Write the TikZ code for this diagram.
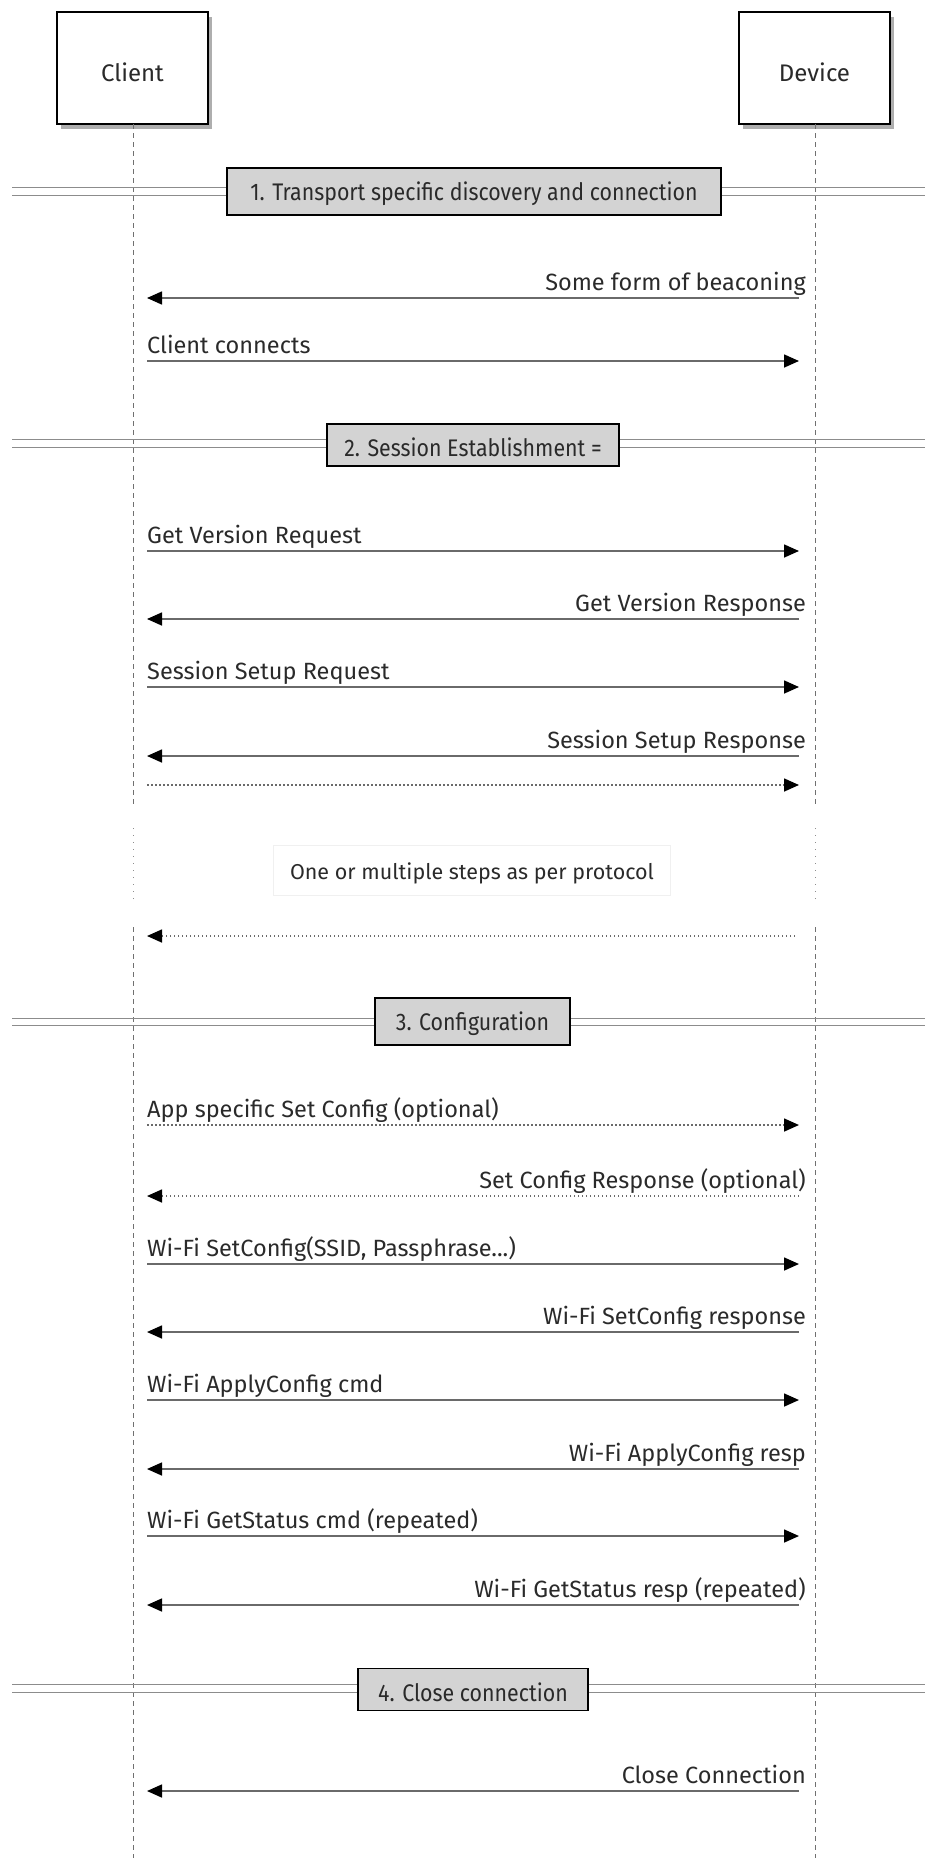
\documentclass[tikz,border=0pt]{standalone}
\usepackage{fontspec}
\setmainfont{Fira Sans}
\newfontfamily\sepfont[FakeStretch=0.89]{Fira Sans}
\usetikzlibrary{arrows.meta,shadows}
\definecolor{txt}{HTML}{2A2A2A}
\definecolor{msgline}{HTML}{6A6A6A}
\definecolor{lifeln}{HTML}{707070}
\definecolor{sepln}{HTML}{8C8C8C}
\definecolor{sepfill}{HTML}{D3D3D3}
\tikzset{
  participant/.style={draw=black, line width=1.5pt, fill=white, minimum width=151pt, minimum height=112pt,
    text=txt, font=\fontsize{24}{28}\selectfont,
    drop shadow={shadow xshift=4pt, shadow yshift=-5pt, fill=black!70, opacity=0.45}},
  lifeline/.style={draw=lifeln, line width=1pt, dash pattern=on 5pt off 4pt},
  lifedots/.style={draw=lifeln!80, line width=1pt, dash pattern=on 1pt off 6pt},
  msg/.style={draw=msgline, line width=1.6pt, -{Triangle[length=15pt,width=13pt,color=black]}},
  dmsg/.style={msg, dash pattern=on 1.5pt off 2.5pt},
  rlabel/.style={anchor=base west, inner sep=0pt, text=txt, font=\fontsize{23.5}{28}\selectfont},
  llabel/.style={anchor=base east, inner sep=0pt, text=txt, font=\fontsize{23.5}{28}\selectfont},
  sepline/.style={draw=sepln, line width=1.3pt},
  sepbox/.style={draw=black, line width=1.5pt, fill=sepfill, minimum height=45pt, inner sep=0pt,
    text=txt, font=\sepfont\fontsize{24}{28}\selectfont},
  notebox/.style={draw=black!6, line width=0.8pt, fill=white, minimum width=397pt, minimum height=50pt,
    text=txt, font=\fontsize{21.5}{26}\selectfont}
}
\newcommand{\lmsg}[3]{%
  \coordinate (a#1) at (799,#2); \coordinate (b#1) at (147,#2);
  \draw[msg] (a#1) -- (b#1);
  \node[llabel] (t#1) at (806,#2-8) {#3};}
\newcommand{\rmsg}[3]{%
  \coordinate (a#1) at (147,#2); \coordinate (b#1) at (799,#2);
  \draw[msg] (a#1) -- (b#1);
  \node[rlabel] (t#1) at (147,#2-8) {#3};}
\newcommand{\ldmsg}[3]{%
  \coordinate (a#1) at (799,#2); \coordinate (b#1) at (147,#2);
  \draw[dmsg] (a#1) -- (b#1);
  \node[llabel] (t#1) at (806,#2-8) {#3};}
\newcommand{\rdmsg}[3]{%
  \coordinate (a#1) at (147,#2); \coordinate (b#1) at (799,#2);
  \draw[dmsg] (a#1) -- (b#1);
  \node[rlabel] (t#1) at (147,#2-8) {#3};}
\newcommand{\lowtxt}[2]{\raisebox{-#1pt}[\height][\depth]{#2}}
\begin{document}
\begin{tikzpicture}[x=1pt,y=-1pt]
\useasboundingbox (0,0) rectangle (925,1858);
% participants
\node[participant] (client) at (132.5,68) {\lowtxt{4}{Client}};
\node[participant] (device) at (814.5,68) {\lowtxt{4}{Device}};
% lifeline coordinates
\coordinate (cl0) at (133,124);  \coordinate (cl1) at (133,805);
\coordinate (cl2) at (133,828);  \coordinate (cl3) at (133,905);
\coordinate (cl4) at (133,927);  \coordinate (cl5) at (133,1858);
\coordinate (dl0) at (815,124);  \coordinate (dl1) at (815,805);
\coordinate (dl2) at (815,828);  \coordinate (dl3) at (815,905);
\coordinate (dl4) at (815,927);  \coordinate (dl5) at (815,1858);
\draw[lifeline] (cl0) -- (cl1);
\draw[lifedots] (cl2) -- (cl3);
\draw[lifeline] (cl4) -- (cl5);
\draw[lifeline] (dl0) -- (dl1);
\draw[lifedots] (dl2) -- (dl3);
\draw[lifeline] (dl4) -- (dl5);
% separators
\foreach \y/\n in {191.5/1,443.5/2,1022/3,1688.5/4}{
  \draw[sepline] (12,\y-3.7) -- (925,\y-3.7);
  \draw[sepline] (12,\y+3.7) -- (925,\y+3.7);
}
\node[sepbox, minimum width=494pt, minimum height=47pt] (s1) at (474,191.5) {\lowtxt{2.5}{1. Transport specific discovery and connection}};
\node[sepbox, minimum width=292pt, minimum height=42pt] (s2) at (473,445) {\lowtxt{2.5}{2. Session Establishment =}};
\node[sepbox, minimum width=195pt, minimum height=47pt] (s3) at (472.5,1021.5) {\lowtxt{2.5}{3. Configuration}};
\node[sepbox, minimum width=230pt, minimum height=42pt] (s4) at (473,1689.5) {\lowtxt{2.5}{4. Close connection}};
% messages
\lmsg{1}{298}{Some form of beaconing}
\rmsg{2}{361}{Client connects}
\rmsg{3}{551}{Get Version Request}
\lmsg{4}{619}{Get Version Response}
\rmsg{5}{687}{Session Setup Request}
\lmsg{6}{756}{Session Setup Response}
\coordinate (a7) at (147,785); \coordinate (b7) at (799,785);
\draw[dmsg] (a7) -- (b7);
\node[notebox] (note) at (472,870) {\lowtxt{3}{One or multiple steps as per protocol}};
\coordinate (a8) at (795,936); \coordinate (b8) at (147,936);
\draw[dmsg] (a8) -- (b8);
\rdmsg{9}{1125}{App specific Set Config (optional)}
\ldmsg{10}{1196}{Set Config Response (optional)}
\rmsg{11}{1264}{Wi-Fi SetConfig(SSID, Passphrase...)}
\lmsg{12}{1332}{Wi-Fi SetConfig response}
\rmsg{13}{1400}{Wi-Fi ApplyConfig cmd}
\lmsg{14}{1469}{Wi-Fi ApplyConfig resp}
\rmsg{15}{1536}{Wi-Fi GetStatus cmd (repeated)}
\lmsg{16}{1605}{Wi-Fi GetStatus resp (repeated)}
\lmsg{17}{1791}{Close Connection}
\end{tikzpicture}
\end{document}
